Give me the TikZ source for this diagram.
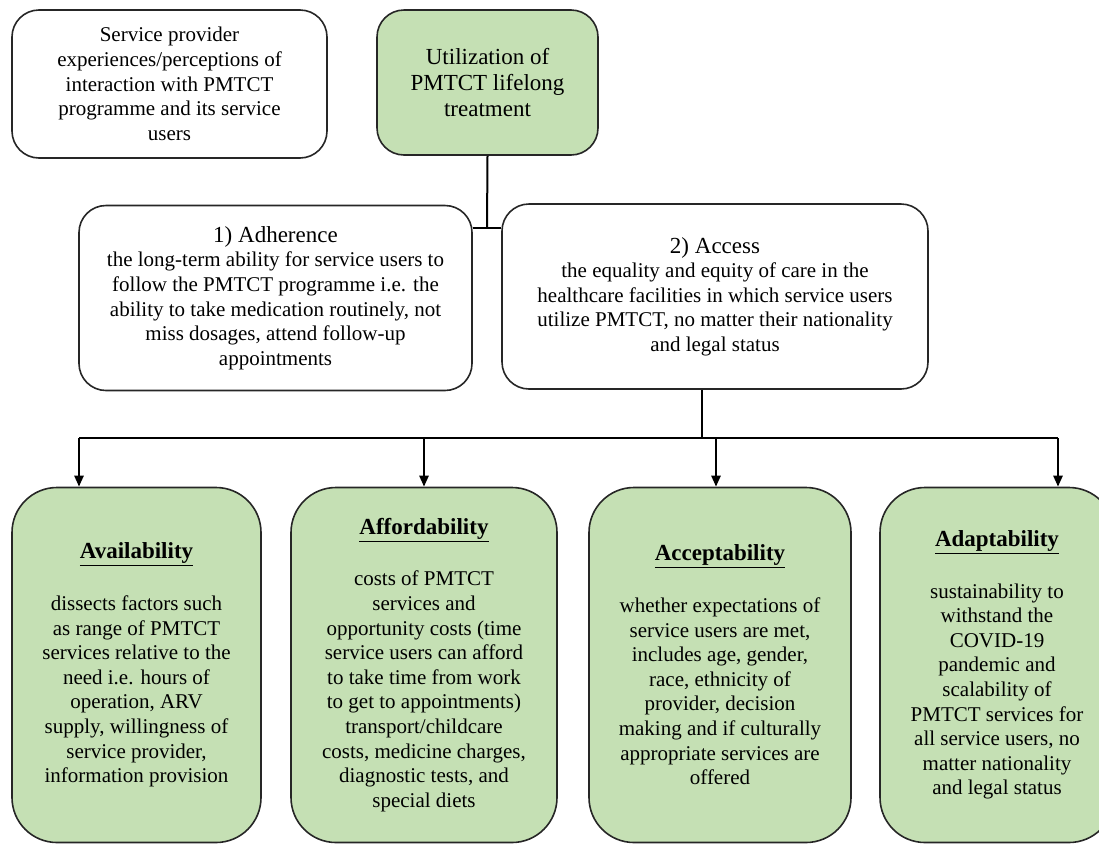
\documentclass[tikz,border=0pt]{standalone}
\usepackage{fontspec}
\setmainfont{Liberation Serif}
\setsansfont{Liberation Serif}
\newfontfamily\chartfont{Liberation Serif}
\usetikzlibrary{arrows.meta}

\definecolor{boxgreen}{RGB}{197,224,180}
\definecolor{boxline}{RGB}{38,38,38}
\newcommand{\boxhead}[1]{{\fontsize{23}{26}\selectfont\bfseries\underline{#1}}}
\newcommand{\parthead}[1]{{\fontsize{23}{26}\selectfont #1}}

\begin{document}
\begin{tikzpicture}[x=1pt,y=-1pt,
    box/.style={draw=boxline,line width=1.6pt,rounded corners=27pt,align=center,
      inner sep=0pt,font=\chartfont\fontsize{21}{24.6}\selectfont},
    greenbox/.style={box,fill=boxgreen},
    dimbox/.style={greenbox,rounded corners=45pt,minimum width=#1,minimum height=355pt},
    link/.style={line width=2pt},
    arr/.style={line width=2.4pt,-{Triangle[length=11pt,width=9pt]}}]
  \clip (0,0) rectangle (1099,844);

  \node[box,minimum width=315pt,minimum height=148pt] (provider) at (169.5,84)
    {Service provider\\experiences/perceptions of\\interaction with PMTCT\\programme and its service\\users};
  \node[greenbox,minimum width=221pt,minimum height=145pt,font=\chartfont\fontsize{23}{26}\selectfont] (util) at (487.5,82.5)
    {Utilization of\\PMTCT lifelong\\treatment};

  \node[box,minimum width=393pt,minimum height=185pt] (adh) at (275.5,298)
    {\parthead{1) Adherence}\\the long-term ability for service users to\\follow the PMTCT programme i.e. the\\ability to take medication routinely, not\\miss dosages, attend follow-up\\appointments};
  \node[box,minimum width=426pt,minimum height=185pt] (acc) at (715,296.5)
    {\parthead{2) Access}\\the equality and equity of care in the\\healthcare facilities in which service users\\utilize PMTCT, no matter their nationality\\and legal status};

  \node[dimbox=249pt] (avl) at (136.5,665)
    {\boxhead{Availability}\\[27pt]dissects factors such\\as range of PMTCT\\services relative to the\\need i.e. hours of\\operation, ARV\\supply, willingness of\\service provider,\\information provision};
  \node[dimbox=266pt] (aff) at (424,665)
    {\boxhead{Affordability}\\[27pt]costs of PMTCT\\services and\\opportunity costs (time\\service users can afford\\to take time from work\\to get to appointments)\\transport/childcare\\costs, medicine charges,\\diagnostic tests, and\\special diets};
  \node[dimbox=262pt] (acp) at (720,665)
    {\boxhead{Acceptability}\\[27pt]whether expectations of\\service users are met,\\includes age, gender,\\race, ethnicity of\\provider, decision\\making and if culturally\\appropriate services are\\offered};
  \node[dimbox=234pt] (adp) at (997,665)
    {\boxhead{Adaptability}\\[27pt]sustainability to\\withstand the\\COVID-19\\pandemic and\\scalability of\\PMTCT services for\\all service users, no\\matter nationality\\and legal status};

  \coordinate (jn) at (487,228);
  \draw[link] (util.south) -- (jn);
  \draw[link] (adh.east |- jn) -- (acc.west |- jn);

  \coordinate (hub) at (702,438);
  \coordinate (a1) at (79,438);
  \coordinate (a2) at (424,438);
  \coordinate (a3) at (716,438);
  \coordinate (a4) at (1058,438);
  \draw[link] (acc.south -| hub) -- (hub);
  \draw[line width=2.6pt] (a1) -- (a4);
  \draw[arr] (a1) -- (a1 |- avl.north);
  \draw[arr] (a2) -- (a2 |- aff.north);
  \draw[arr] (a3) -- (a3 |- acp.north);
  \draw[arr] (a4) -- (a4 |- adp.north);
\end{tikzpicture}
\end{document}
